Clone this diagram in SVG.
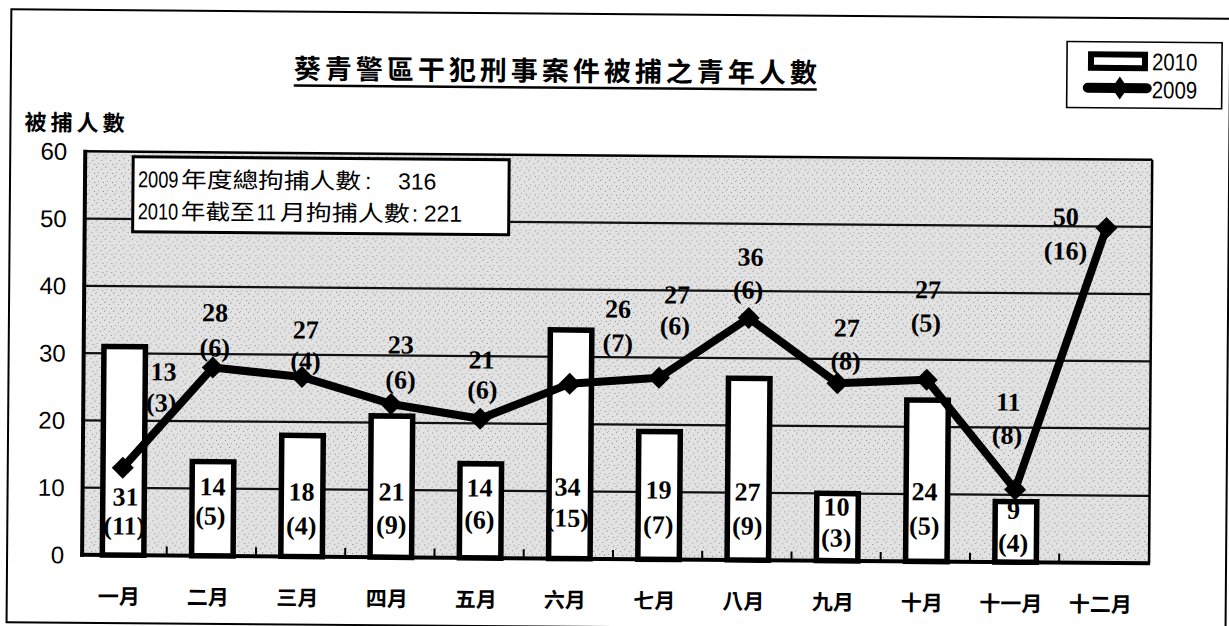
<svg xmlns="http://www.w3.org/2000/svg" width="1229" height="626" viewBox="0 0 1229 626">
<defs>
<style>
.cjk{font-family:"Noto Sans CJK TC","Noto Sans CJK SC",sans-serif;fill:#000}
.sans{font-family:"Liberation Sans",Arial,sans-serif;fill:#000}
.num{font-family:"Liberation Serif","Times New Roman",serif;font-weight:bold;font-size:26px;text-anchor:middle;fill:#000}
.ytick{font-family:"Liberation Sans",Arial,sans-serif;font-size:24px;text-anchor:end;fill:#000}
.month{font-family:"Noto Sans CJK TC","Noto Sans CJK SC",sans-serif;font-size:21px;font-weight:bold;text-anchor:middle;fill:#000}
.grid{stroke:#111;stroke-width:2.2;fill:none}
.bar{fill:#fff;stroke:#000;stroke-width:5.5}
.tick{stroke:#000;stroke-width:2}
</style>
<pattern id="speck" width="9" height="9" patternUnits="userSpaceOnUse">
<rect width="9" height="9" fill="#e2e2e2"/>
<rect x="1" y="2" width="1" height="1" fill="#8c8c8c"/>
<rect x="5" y="0" width="1" height="1" fill="#9a9a9a"/>
<rect x="3" y="6" width="1" height="1" fill="#848484"/>
<rect x="7" y="5" width="1" height="1" fill="#a2a2a2"/>
<rect x="6" y="8" width="1" height="1" fill="#b0b0b0"/>
</pattern>
<marker id="dia" markerWidth="24" markerHeight="24" refX="12" refY="12" markerUnits="userSpaceOnUse" orient="0">
<path d="M12 1 L23 12 L12 23 L1 12 Z" fill="#000"/>
</marker>
</defs>
<rect width="1229" height="626" fill="#fff"/>
<g transform="rotate(0.45 614 313)">
<g id="frame"><rect x="9" y="14" width="1219" height="613" fill="none" stroke="#000" stroke-width="2"/></g>

<g id="title">
<text class="cjk" x="292" y="81" font-size="27" font-weight="bold" textLength="523">葵青警區干犯刑事案件被捕之青年人數</text>
<line x1="292" y1="88" x2="815" y2="88" stroke="#000" stroke-width="2.5"/>
</g>

<g id="legend">
<rect x="1065" y="38" width="155" height="66" fill="#fff" stroke="#000" stroke-width="1.6"/>
<rect x="1089" y="50.5" width="54" height="13.5" fill="#fff" stroke="#000" stroke-width="6"/>
<text class="sans" font-size="24" transform="translate(1150 66) scale(0.85 1)">2010</text>
<line x1="1086" y1="84" x2="1145" y2="84" stroke="#000" stroke-width="10" stroke-linecap="round"/>
<polygon points="1118,72.5 1126,84 1118,95.5 1110,84" fill="#000"/>
<text class="sans" font-size="24" transform="translate(1150 94) scale(0.85 1)">2009</text>
</g>

<g id="y-axis-title"><text class="cjk" x="23" y="135" font-size="22" font-weight="bold" textLength="100">被捕人數</text></g>

<g id="plot">
<rect x="84" y="155.5" width="1067" height="403.5" fill="url(#speck)"/>
<g id="gridlines">
<line class="grid" x1="84" y1="491.75" x2="1151" y2="491.75"/>
<line class="grid" x1="84" y1="424.5" x2="1151" y2="424.5"/>
<line class="grid" x1="84" y1="357.25" x2="1151" y2="357.25"/>
<line class="grid" x1="84" y1="290" x2="1151" y2="290"/>
<line class="grid" x1="84" y1="222.75" x2="1151" y2="222.75"/>
</g>
<g id="ticks">
<line class="tick" x1="168.6" y1="550" x2="168.6" y2="559"/>
<line class="tick" x1="257.9" y1="550" x2="257.9" y2="559"/>
<line class="tick" x1="347.1" y1="550" x2="347.1" y2="559"/>
<line class="tick" x1="436.4" y1="550" x2="436.4" y2="559"/>
<line class="tick" x1="525.6" y1="550" x2="525.6" y2="559"/>
<line class="tick" x1="614.9" y1="550" x2="614.9" y2="559"/>
<line class="tick" x1="704.1" y1="550" x2="704.1" y2="559"/>
<line class="tick" x1="793.4" y1="550" x2="793.4" y2="559"/>
<line class="tick" x1="882.6" y1="550" x2="882.6" y2="559"/>
<line class="tick" x1="971.9" y1="550" x2="971.9" y2="559"/>
<line class="tick" x1="1061.1" y1="550" x2="1061.1" y2="559"/>
</g>
<g id="y-labels">
<text class="ytick" x="66" y="567.6">0</text>
<text class="ytick" x="66" y="500.4">10</text>
<text class="ytick" x="66" y="433.1">20</text>
<text class="ytick" x="66" y="365.9">30</text>
<text class="ytick" x="66" y="298.6">40</text>
<text class="ytick" x="66" y="231.4">50</text>
<text class="ytick" x="66" y="164.1">60</text>
</g>
</g>

<g id="annotation">
<rect x="132" y="160.5" width="376" height="75" fill="#fff" stroke="#000" stroke-width="3"/>
<text class="sans" font-size="23" transform="translate(137 191) scale(0.79 1)">2009</text>
<text class="cjk" x="180" y="191" font-size="22" textLength="180" lengthAdjust="spacingAndGlyphs">年度總拘捕人數</text>
<text class="sans" x="364" y="191" font-size="23">:</text>
<text class="sans" x="397" y="191" font-size="23">316</text>
<text class="sans" font-size="23" transform="translate(137 223) scale(0.79 1)">2010</text>
<text class="cjk" x="180" y="223" font-size="22" textLength="74" lengthAdjust="spacingAndGlyphs">年截至</text>
<text class="sans" font-size="23" transform="translate(256 223) scale(0.8 1)">11</text>
<text class="cjk" x="279" y="223" font-size="22" textLength="130" lengthAdjust="spacingAndGlyphs">月拘捕人數</text>
<text class="sans" x="411" y="223" font-size="23">:</text>
<text class="sans" x="423" y="223" font-size="23">221</text>
</g>

<g id="series-2010">
<rect class="bar" x="104.25" y="350.5" width="41.5" height="208.5"/>
<rect class="bar" x="193.5" y="464.85" width="41.5" height="94.15"/>
<rect class="bar" x="282.75" y="437.95" width="41.5" height="121.05"/>
<rect class="bar" x="372" y="417.8" width="41.5" height="141.2"/>
<rect class="bar" x="461.25" y="464.85" width="41.5" height="94.15"/>
<rect class="bar" x="550.5" y="330.35" width="41.5" height="228.65"/>
<rect class="bar" x="639.75" y="431.2" width="41.5" height="127.8"/>
<rect class="bar" x="729" y="377.4" width="41.5" height="181.6"/>
<rect class="bar" x="818.25" y="491.75" width="41.5" height="67.25"/>
<rect class="bar" x="907.5" y="397.6" width="41.5" height="161.4"/>
<rect class="bar" x="996.75" y="498.5" width="41.5" height="60.5"/>
</g>

<g id="connectors">
<polyline points="124,471.6 213.25,370.7 302.5,379.4 391.75,405.7 481,419.8 570.25,384.2 659.5,377.4 748.75,316.9 838,381.5 927.25,377.4 1016.5,486.4 1105.75,224.1" fill="none" stroke="#000" stroke-width="8" stroke-linejoin="round" marker-start="url(#dia)" marker-mid="url(#dia)" marker-end="url(#dia)"/>
</g>

<g id="axes">
<line x1="84" y1="155.5" x2="1151" y2="155.5" stroke="#000" stroke-width="2.5"/>
<line x1="1151" y1="155.5" x2="1151" y2="559" stroke="#000" stroke-width="2.5"/>
<line x1="84" y1="154" x2="84" y2="561" stroke="#000" stroke-width="4"/>
<line x1="82" y1="559" x2="1152" y2="559" stroke="#000" stroke-width="4"/>
</g>

<g id="labels-2010">
<text class="num" x="127" y="509.4">31</text><text class="num" x="126" y="538.4">(11)</text>
<text class="num" x="214" y="498.6">14</text><text class="num" x="212" y="527.6">(5)</text>
<text class="num" x="303" y="503">18</text><text class="num" x="303" y="537">(4)</text>
<text class="num" x="393" y="502.3">21</text><text class="num" x="393" y="535.3">(9)</text>
<text class="num" x="481" y="497.6">14</text><text class="num" x="481" y="529.6">(6)</text>
<text class="num" x="569" y="496">34</text><text class="num" x="569" y="527">(15)</text>
<text class="num" x="660" y="498.2">19</text><text class="num" x="660" y="533.2">(7)</text>
<text class="num" x="749" y="499.6">27</text><text class="num" x="749" y="533.6">(9)</text>
<text class="num" x="838" y="513.8">10</text><text class="num" x="838" y="544.8">(3)</text>
<text class="num" x="926" y="498">24</text><text class="num" x="926" y="532">(5)</text>
<text class="num" x="1015" y="515.6">9</text><text class="num" x="1015" y="548.6">(4)</text>
</g>

<g id="labels-2009">
<text class="num" x="164" y="384">13</text><text class="num" x="162" y="415">(3)</text>
<text class="num" x="215" y="324.6">28</text><text class="num" x="215" y="359.6">(6)</text>
<text class="num" x="306" y="341">27</text><text class="num" x="306" y="372">(4)</text>
<text class="num" x="401" y="355.3">23</text><text class="num" x="401" y="390.3">(6)</text>
<text class="num" x="482" y="369.6">21</text><text class="num" x="483" y="399.6">(6)</text>
<text class="num" x="618" y="317.6">26</text><text class="num" x="618" y="351.6">(7)</text>
<text class="num" x="677" y="303">27</text><text class="num" x="675" y="334">(6)</text>
<text class="num" x="750" y="264.6">36</text><text class="num" x="748" y="297.6">(6)</text>
<text class="num" x="847" y="334.8">27</text><text class="num" x="846" y="367.8">(8)</text>
<text class="num" x="928" y="296">27</text><text class="num" x="926" y="329">(5)</text>
<text class="num" x="1009" y="407.6">11</text><text class="num" x="1008" y="440.6">(8)</text>
<text class="num" x="1065" y="222">50</text><text class="num" x="1065" y="256">(16)</text>
</g>

<g id="x-labels">
<text class="month" x="121" y="608">一月</text>
<text class="month" x="210" y="608">二月</text>
<text class="month" x="299.5" y="608">三月</text>
<text class="month" x="389" y="608">四月</text>
<text class="month" x="478" y="608">五月</text>
<text class="month" x="567" y="608">六月</text>
<text class="month" x="656.5" y="608">七月</text>
<text class="month" x="745.5" y="608">八月</text>
<text class="month" x="835" y="608">九月</text>
<text class="month" x="924" y="608">十月</text>
<text class="month" x="1013" y="608">十一月</text>
<text class="month" x="1102.5" y="608">十二月</text>
</g>
</g>
</svg>
